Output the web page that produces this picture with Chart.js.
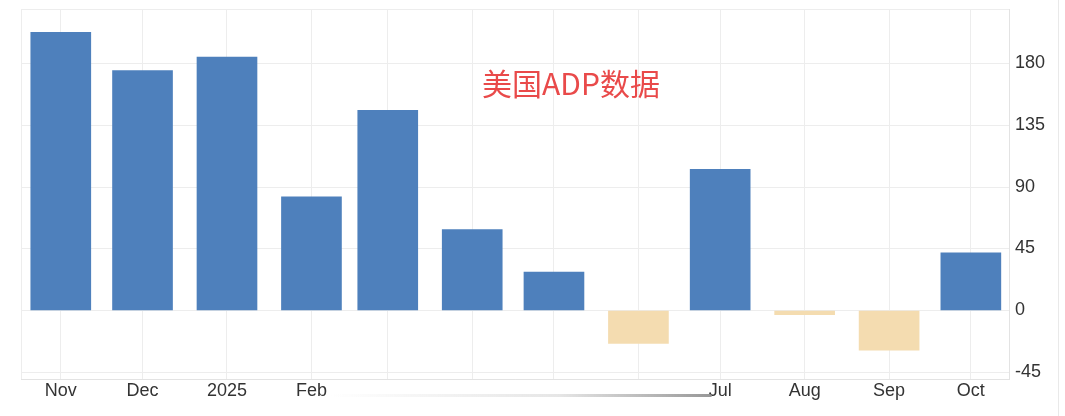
<!DOCTYPE html>
<html>
<head>
<meta charset="utf-8">
<script src="https://cdn.jsdelivr.net/npm/chart.js@4/dist/chart.umd.min.js"></script>
<style>
  html, body { margin: 0; padding: 0; background: #ffffff; }
  #wrap { position: relative; width: 1058px; height: 416px; border-right: 1px solid #e9e9e9; }
  #title {
    position: absolute; left: 571px; top: 67px; transform: translateX(-50%);
    font-family: "Noto Sans CJK SC", "Noto Sans", sans-serif; font-size: 30px; line-height: 31px;
    color: #e94a4a; white-space: nowrap;
  }
  #shade {
    position: absolute; left: 330px; top: 394px; width: 382px; height: 3px;
    background: linear-gradient(to right, rgba(210,210,210,0), rgba(205,205,205,0.5) 60%, rgba(140,140,140,0.9));
    border-radius: 2px;
  }
</style>
</head>
<body>
<div id="wrap">
  <canvas id="c" width="1058" height="416"></canvas>
  <div id="title">美国ADP数据</div>
  <div id="shade"></div>
</div>
<script>
// ---- data ----
const dates = ['2024-11-01','2024-12-01','2025-01-01','2025-02-01','2025-03-01','2025-04-01',
               '2025-05-01','2025-06-01','2025-07-01','2025-08-01','2025-09-01','2025-10-01'];
const tickLabels = ['Nov','Dec','2025','Feb','','','','','Jul','Aug','Sep','Oct'];
const values = [203, 175, 185, 83, 146, 59, 28, -24, 103, -3, -29, 42];
const yTicks = [-45, 0, 45, 90, 135, 180];

// ---- helpers ----
const DAY = 86400000;
const base = Date.parse(dates[0]);
const dayOf = d => Math.round((Date.parse(d) - base) / DAY);
const xs = dates.map(dayOf);
const xMin = -14.6, xMax = 348;
const yMin = -50, yMax = 220;

const BLUE = '#4e80bc';
const BEIGE = '#f4dcb0';
const GRID = '#ededed';
const FONT = { family: '"Liberation Sans", Arial, sans-serif', size: 18 };

const noPad = s => { s.paddingTop = 0; s.paddingBottom = 0; s.paddingLeft = 0; s.paddingRight = 0; };

new Chart(document.getElementById('c'), {
  type: 'bar',
  data: {
    datasets: [{
      data: xs.map((x, i) => ({ x: x, y: values[i] })),
      backgroundColor: values.map(v => v < 0 ? BEIGE : BLUE),
      borderWidth: 0,
      barThickness: 60
    }]
  },
  options: {
    responsive: false,
    animation: false,
    layout: { padding: { left: 21, top: 9, right: 0, bottom: 0 } },
    plugins: { legend: { display: false }, tooltip: { enabled: false }, title: { display: false } },
    scales: {
      x: {
        type: 'linear',
        position: 'bottom',
        min: xMin, max: xMax,
        offset: false,
        grid: { offset: false, color: GRID, drawTicks: false, lineWidth: 1 },
        border: { color: '#e3e3e3' },
        afterBuildTicks: s => { s.ticks = [xMin, ...xs, xMax].map(v => ({ value: v })); },
        afterFit: s => { s.height = 416 - 379; noPad(s); },
        ticks: {
          autoSkip: false, maxRotation: 0, padding: 1,
          color: '#333333', font: FONT,
          callback: v => { const i = xs.indexOf(v); return i >= 0 ? tickLabels[i] : ''; }
        }
      },
      y: {
        type: 'linear',
        position: 'right',
        min: yMin, max: yMax,
        grid: { color: GRID, drawTicks: false, lineWidth: 1 },
        border: { color: '#e3e3e3' },
        afterBuildTicks: s => { s.ticks = [yMin, ...yTicks, yMax].map(v => ({ value: v })); },
        afterFit: s => { s.width = 1058 - 1009; noPad(s); },
        ticks: {
          padding: 6, labelOffset: -0.5,
          color: '#333333', font: FONT,
          callback: v => yTicks.includes(v) ? String(v) : ''
        }
      }
    }
  }
});
</script>
</body>
</html>
